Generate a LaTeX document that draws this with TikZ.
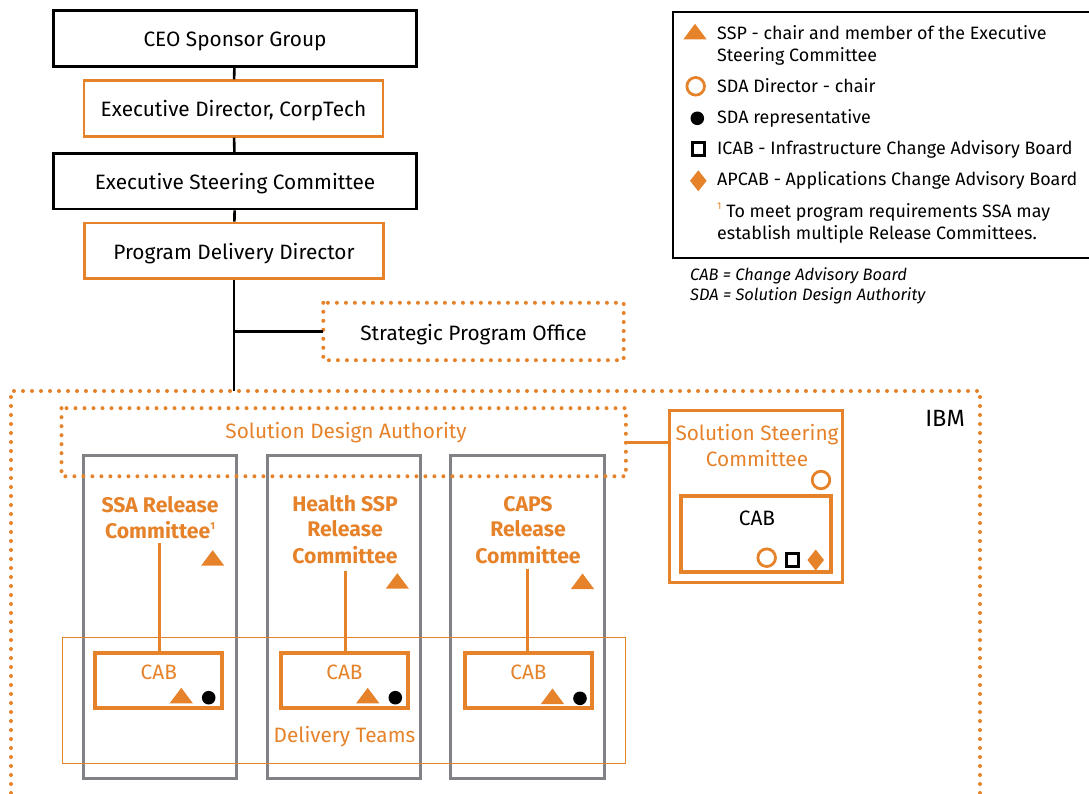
\documentclass[tikz,border=0pt]{standalone}
\usepackage{fontspec}
\setmainfont{Fira Sans}
\usetikzlibrary{shapes.geometric}
\definecolor{org}{HTML}{E5822A}
\definecolor{gry}{HTML}{818285}
\tikzset{
  mfont/.style={font=\fontsize{20.8}{25}\selectfont},
  txt/.style={mfont, inner sep=0pt},
  lgd/.style={font=\fontsize{17.9}{21}\selectfont, inner sep=0pt, anchor=base west},
  btitle/.style={font=\fontsize{21.2}{26}\selectfont\bfseries, text=org, inner sep=0pt, anchor=base},
  boxtext/.style={mfont, text height=17pt, text depth=0pt, inner sep=0pt},
  bbox/.style={boxtext, draw=black, line width=2.8pt, minimum height=55.5pt},
  obox/.style={boxtext, draw=org, line width=2.7pt, minimum width=299pt, minimum height=55.6pt},
  dotln/.style={draw=org, line width=4pt, dash pattern=on 0pt off 9pt, line cap=round},
  colbox/.style={draw=gry, line width=3pt, minimum width=153.6pt, minimum height=323pt, inner sep=0pt},
  cabbox/.style={draw=org, line width=4pt, minimum width=127pt, minimum height=55.3pt, inner sep=0pt},
  conn/.style={draw=black, line width=2.6pt},
  oconn/.style={draw=org, line width=2.6pt},
  tri/.pic={\fill[org] (-11.6,0) -- (11.6,0) -- (0,-15.5) -- cycle;},
  bdot/.pic={\fill[black] (0,0) circle (6.8pt);},
  ocirc/.pic={\draw[org, line width=2.8pt] (0,0) circle (8.8pt);},
  bsq/.pic={\draw[black, line width=3pt] (-6.3,-6.3) rectangle (6.3,6.3);},
  odia/.pic={\fill[org] (0,-10.5) -- (8.3,0) -- (0,10.5) -- (-8.3,0) -- cycle;},
}
\newcommand{\supone}{\raisebox{0.8ex}{\fontsize{10}{10}\selectfont 1}}
\begin{document}
\begin{tikzpicture}[x=1pt,y=-1pt]
\useasboundingbox (0,0) rectangle (1089,794);

% top chain
\node[bbox, minimum width=363.6pt] (ceo) at (235,38.5) {CEO Sponsor Group};
\node[obox] (ed) at (233.5,108.5) {Executive Director, CorpTech};
\node[bbox, minimum width=363.6pt] (esc) at (235,181.2) {Executive Steering Committee};
\node[obox] (pdd) at (234,250.8) {Program Delivery Director};
\draw[conn] (ceo) -- (ed);
\draw[conn] (ed) -- (esc);
\draw[conn] (esc) -- (pdd);

% strategic program office
\node[boxtext, minimum width=300pt, minimum height=57pt] (spo) at (473.5,331.5) {Strategic Program Office};
\draw[dotln] (spo.north west) rectangle (spo.south east);
\coordinate (ibmtop) at (234,391);
\draw[conn] (pdd.south) -- (ibmtop);
\draw[conn] (pdd.south |- spo.west) -- (spo.west);

% IBM region
\coordinate (ibmbl) at (11,793);
\coordinate (ibmbr) at (980,793);
\draw[dotln] (ibmbl) -- (11,391) -- (980,391) -- (ibmbr);
\node[inner sep=0pt, font=\fontsize{23.5}{28}\selectfont, anchor=base east] (ibm) at (965,426) {IBM};

% gray columns
\node[colbox] (c1) at (160,617) {};
\node[colbox] (c2) at (344,617) {};
\node[colbox] (c3) at (527.3,617) {};

% Solution Design Authority
\node[inner sep=0pt, minimum width=564pt, minimum height=67.7pt] (sda) at (343.7,442.2) {};
\draw[dotln] (sda.north west) rectangle (sda.south east);
\node[txt, text=org, anchor=base] (sdat) at (346,438.3) {Solution Design Authority};

% Delivery teams
\node[draw=org, line width=1.4pt, inner sep=0pt, minimum width=563pt, minimum height=125.6pt] (dt) at (343.8,700.5) {};
\node[txt, text=org, anchor=base] (dtt) at (344.5,742.7) {Delivery Teams};

% column titles
\node[btitle] (t1a) at (160,512.7) {SSA Release};
\node[btitle] (t1b) at (160,538.3) {Committee\supone};
\node[btitle] (t2a) at (345,511) {Health SSP};
\node[btitle] (t2b) at (345,536.7) {Release};
\node[btitle] (t2c) at (345,563.3) {Committee};
\node[btitle] (t3a) at (528,511) {CAPS};
\node[btitle] (t3b) at (528,536.7) {Release};
\node[btitle] (t3c) at (528,563.3) {Committee};

\pic (tr1) at (212.7,565.7) {tri};
\pic (tr2) at (397.3,588.7) {tri};
\pic (tr3) at (582.5,589) {tri};

% CAB boxes
\node[cabbox] (cab1) at (158.8,680.3) {};
\node[cabbox] (cab2) at (344.2,680.3) {};
\node[cabbox] (cab3) at (528.3,680.8) {};
\node[txt, text=org, anchor=base] (cab1t) at (158.8,679) {CAB};
\node[txt, text=org, anchor=base] (cab2t) at (344.5,679) {CAB};
\node[txt, text=org, anchor=base] (cab3t) at (528.5,679.5) {CAB};
\pic (ct1) at (181.3,703.3) {tri};
\pic (ct2) at (367.7,703.3) {tri};
\pic (ct3) at (552.5,704) {tri};
\pic (cd1) at (208.7,697.7) {bdot};
\pic (cd2) at (395.3,697.7) {bdot};
\pic (cd3) at (580,698.3) {bdot};

\coordinate (v1) at (159.3,543.3);
\coordinate (v2) at (345.7,570.7);
\coordinate (v3) at (527.7,569.3);
\draw[oconn] (v1) -- (v1 |- cab1.north);
\draw[oconn] (v2) -- (v2 |- cab2.north);
\draw[oconn] (v3) -- (v3 |- cab3.north);

% Solution Steering Committee
\node[draw=org, line width=3pt, inner sep=0pt, minimum width=173.3pt, minimum height=172pt] (ssc) at (755.8,496.5) {};
\node[txt, text=org, anchor=base] (ssct1) at (757,440) {Solution Steering};
\node[txt, text=org, anchor=base] (ssct2) at (757,466) {Committee};
\pic (sscc) at (821,480) {ocirc};
\node[draw=org, line width=4pt, inner sep=0pt, minimum width=149.3pt, minimum height=76pt] (scab) at (756,534.3) {};
\node[txt, anchor=base] (scabt) at (757,525) {CAB};
\pic (sc1) at (766.7,557.7) {ocirc};
\pic (sc2) at (792.3,560) {bsq};
\pic (sc3) at (815.7,560) {odia};
\draw[oconn] (sda.east) -- (sda.east -| ssc.west);

% legend
\coordinate (lgtr) at (1089,11.7);
\coordinate (lgbr) at (1089,258.3);
\draw[black, line width=2pt] (lgtr) -- (672.7,11.7) -- (672.7,258.3) -- (lgbr);
\pic (l1) at (695,39.3) {tri};
\node[lgd] (l1a) at (717,39.3) {SSP - chair and member of the Executive};
\node[lgd] (l1b) at (717,61.7) {Steering Committee};
\pic (l2) at (695.7,86.3) {ocirc};
\node[lgd] (l2a) at (717,92.7) {SDA Director - chair};
\pic (l3) at (697.3,118.3) {bdot};
\node[lgd] (l3a) at (717,123.3) {SDA representative};
\pic (l4) at (698.3,149.3) {bsq};
\node[lgd] (l4a) at (717,154.3) {ICAB - Infrastructure Change Advisory Board};
\pic (l5) at (698.3,180.8) {odia};
\node[lgd] (l5a) at (717,185.7) {APCAB - Applications Change Advisory Board};
\node[lgd] (l6a) at (717,217.3) {{\color{org}\supone} To meet program requirements SSA may};
\node[lgd] (l6b) at (717,240) {establish multiple Release Committees.};
\node[lgd, font=\fontsize{16.5}{20}\selectfont\itshape] (n1) at (690,280.7) {CAB = Change Advisory Board};
\node[lgd, font=\fontsize{16.5}{20}\selectfont\itshape] (n2) at (690,300.7) {SDA = Solution Design Authority};
\end{tikzpicture}
\end{document}
